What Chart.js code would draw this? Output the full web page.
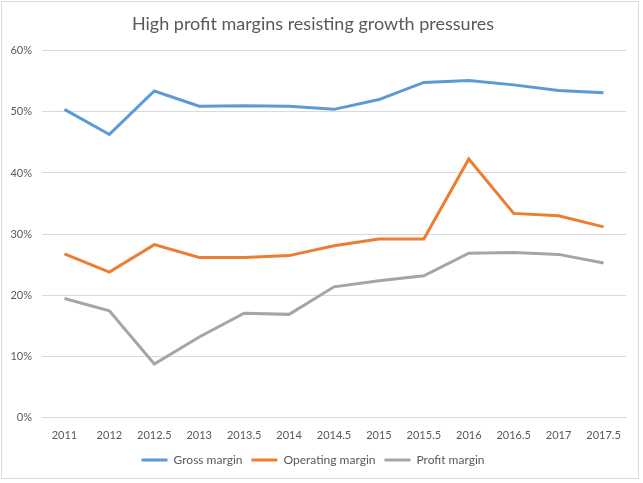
<!DOCTYPE html>
<html>
<head>
<meta charset="utf-8">
<script src="https://cdn.jsdelivr.net/npm/chart.js@4"></script>
<style>
    html, body { margin: 0; padding: 0; background: #ffffff; }
    #frame {
        position: absolute; left: 1px; top: 1px;
        width: 636px; height: 476px;
        border: 1px solid #d9d9d9;
    }
    #wrap { position: absolute; left: 0; top: 0; width: 643px; height: 483px; }
</style>
</head>
<body>
<div id="frame"></div>
<div id="wrap"><canvas id="marginChart"></canvas></div>
<script>
    // Values (fractions of 1)
    const years = ['2011', '2012', '2012.5', '2013', '2013.5', '2014', '2014.5', '2015', '2015.5', '2016', '2016.5', '2017', '2017.5'];
    const grossMargin = [0.504, 0.463, 0.534, 0.509, 0.510, 0.509, 0.504, 0.520, 0.548, 0.551, 0.544, 0.535, 0.531];
    const operatingMargin = [0.268, 0.238, 0.283, 0.262, 0.262, 0.265, 0.281, 0.292, 0.292, 0.423, 0.334, 0.330, 0.312];
    const profitMargin = [0.195, 0.175, 0.088, 0.132, 0.171, 0.169, 0.214, 0.224, 0.232, 0.269, 0.270, 0.267, 0.253];
    const yTicks = [0, 0.1, 0.2, 0.3, 0.4, 0.5, 0.6];

    const textColor = '#595959';
    const fontFamily = 'Lato, "Liberation Sans", sans-serif';

    function makeSeries(label, values, color) {
        return {
            label: label,
            data: values,
            borderColor: color,
            backgroundColor: color,
            borderWidth: 3,
            pointRadius: 0,
            tension: 0
        };
    }

    const ctx = document.getElementById('marginChart').getContext('2d');
    new Chart(ctx, {
        type: 'line',
        data: {
            labels: years,
            datasets: [
                makeSeries('Gross margin', grossMargin, '#5b9bd5'),
                makeSeries('Operating margin', operatingMargin, '#ed7d31'),
                makeSeries('Profit margin', profitMargin, '#a5a5a5')
            ]
        },
        options: {
            responsive: true,
            maintainAspectRatio: false,
            animation: false,
            layout: { padding: { left: 0, right: 17, top: 0, bottom: 7 } },
            plugins: {
                title: {
                    display: true,
                    text: 'High profit margins resisting growth pressures',
                    color: textColor,
                    font: { family: fontFamily, size: 18, weight: 'normal' },
                    padding: { top: 13, bottom: 16 }
                },
                legend: {
                    position: 'bottom',
                    labels: {
                        color: textColor,
                        font: { family: fontFamily, size: 12 },
                        boxWidth: 26,
                        boxHeight: 0,
                        padding: 9
                    }
                },
                tooltip: { enabled: false }
            },
            scales: {
                x: {
                    offset: true,
                    grid: { display: false },
                    border: { color: '#d9d9d9' },
                    ticks: {
                        color: textColor,
                        font: { family: fontFamily, size: 11 },
                        maxRotation: 0,
                        autoSkip: false,
                        padding: 3
                    }
                },
                y: {
                    min: 0,
                    max: 0.6,
                    afterBuildTicks: function (scale) {
                        scale.ticks = yTicks.map(v => ({ value: v }));
                    },
                    afterFit: function (scale) {
                        scale.width = 42;
                    },
                    grid: { color: '#d9d9d9', drawTicks: false },
                    border: { display: false },
                    ticks: {
                        color: textColor,
                        font: { family: fontFamily, size: 11 },
                        padding: 10,
                        callback: function (value) {
                            return Math.round(value * 100) + '%';
                        }
                    }
                }
            }
        }
    });
</script>
</body>
</html>
